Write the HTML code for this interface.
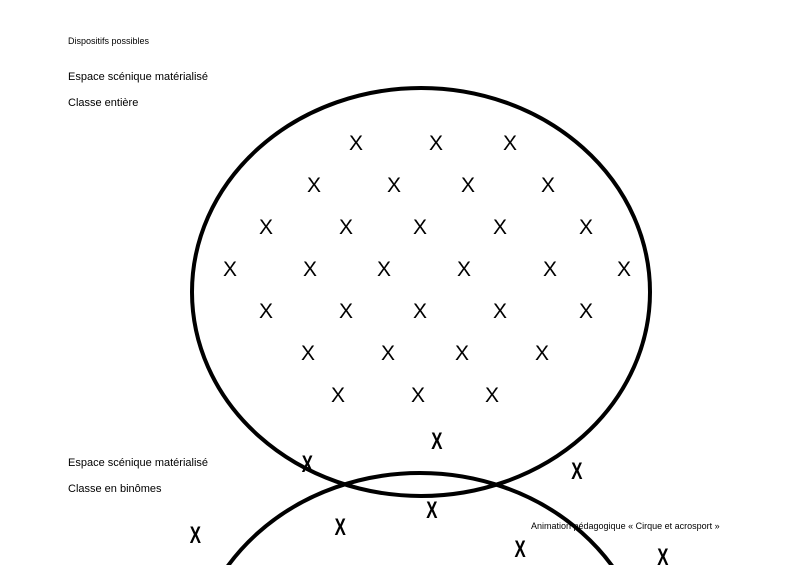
<!DOCTYPE html>
<html><head><meta charset="utf-8"><style>
html,body{margin:0;padding:0;background:#fff;width:800px;height:565px;overflow:hidden}
svg{display:block}
</style></head><body>
<svg width="800" height="565" xmlns="http://www.w3.org/2000/svg" font-family="Liberation Sans, DejaVu Sans, sans-serif">
<g font-size="11" fill="#000">
<text x="68" y="44" font-size="9">Dispositifs possibles</text>
<text x="68" y="80">Espace scénique matérialisé</text>
<text x="68" y="106">Classe entière</text>
<text x="68" y="466">Espace scénique matérialisé</text>
<text x="68" y="492">Classe en binômes</text>
<text x="531" y="529" font-size="9">Animation pédagogique « Cirque et acrosport »</text>
</g>
<ellipse cx="421" cy="292" rx="229" ry="204" fill="none" stroke="#000" stroke-width="4"/>
<ellipse cx="420" cy="677" rx="229" ry="204" fill="none" stroke="#000" stroke-width="4"/>
<g font-size="21" text-anchor="middle" fill="#000">
<text x="356" y="150">X</text><text x="436" y="150">X</text><text x="510" y="150">X</text>
<text x="314" y="192">X</text><text x="394" y="192">X</text><text x="468" y="192">X</text><text x="548" y="192">X</text>
<text x="266" y="234">X</text><text x="346" y="234">X</text><text x="420" y="234">X</text><text x="500" y="234">X</text><text x="586" y="234">X</text>
<text x="230" y="276">X</text><text x="310" y="276">X</text><text x="384" y="276">X</text><text x="464" y="276">X</text><text x="550" y="276">X</text><text x="624" y="276">X</text>
<text x="266" y="318">X</text><text x="346" y="318">X</text><text x="420" y="318">X</text><text x="500" y="318">X</text><text x="586" y="318">X</text>
<text x="308" y="360">X</text><text x="388" y="360">X</text><text x="462" y="360">X</text><text x="542" y="360">X</text>
<text x="338" y="402">X</text><text x="418" y="402">X</text><text x="492" y="402">X</text>
</g>
<g font-size="24" font-weight="bold" text-anchor="middle" fill="#000" transform="scale(0.7,1)">
<text x="624" y="449">X</text>
<text x="439" y="472">X</text>
<text x="824" y="479">X</text>
<text x="617" y="518">X</text>
<text x="486" y="535">X</text>
<text x="279" y="543">X</text>
<text x="743" y="557">X</text>
<text x="947" y="565">X</text>
</g>
</svg>
</body></html>
